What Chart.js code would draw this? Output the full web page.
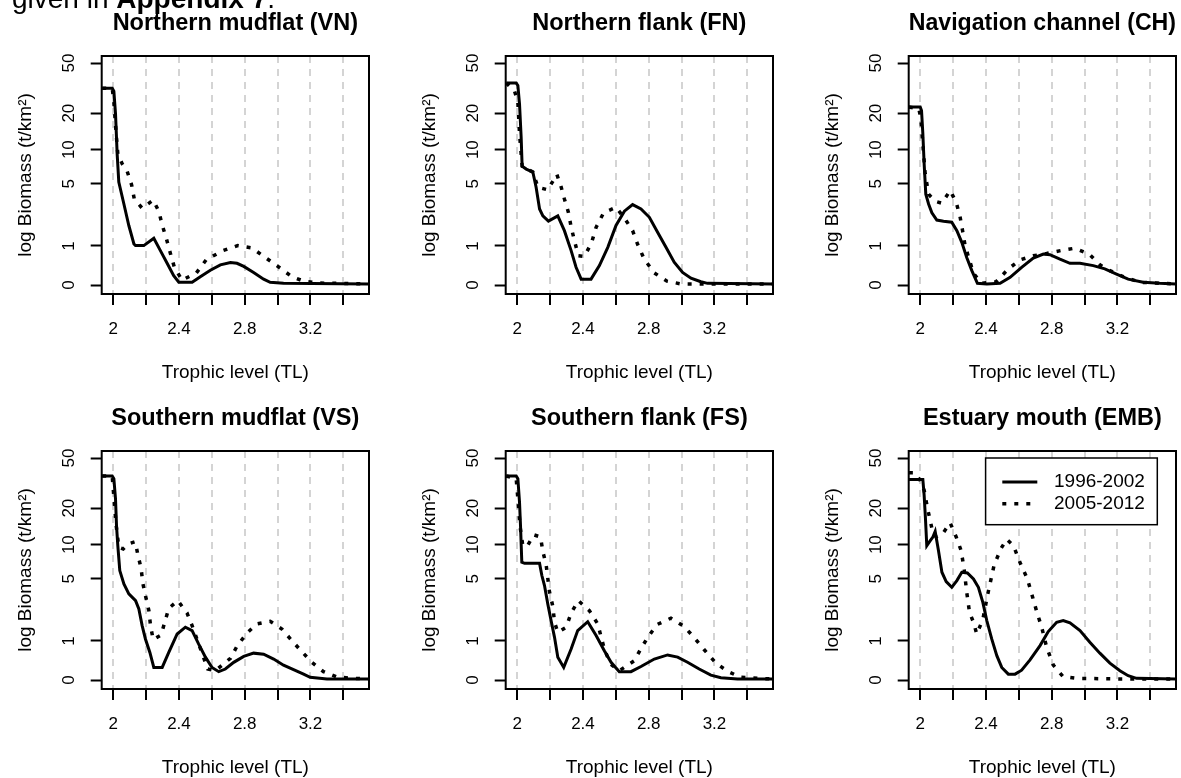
<!DOCTYPE html>
<html>
<head>
<meta charset="utf-8">
<script src="https://cdn.jsdelivr.net/npm/chart.js@4/dist/chart.umd.min.js"></script>
<style>
  html, body { margin: 0; padding: 0; width: 1181px; height: 778px; overflow: hidden; background: #fff; }
  #note { position: absolute; left: 12px; top: -15px; font: 28px/28px "Liberation Sans", Arial, sans-serif; color: #000; z-index: 2; white-space: nowrap; }
  .panel { position: absolute; width: 404px; height: 395px; }
</style>
</head>
<body>
<div id="note">given in <b>Appendix 7</b>.</div>
<script>
// Titres des panneaux et périodes
const regionTitles = ["Northern mudflat (VN)", "Northern flank (FN)", "Navigation channel (CH)",
                      "Southern mudflat (VS)", "Southern flank (FS)", "Estuary mouth (EMB)"];
const periods = ["1996-2002", "2005-2012"];

// Axes
const xTicks = [2.0, 2.2, 2.4, 2.6, 2.8, 3.0, 3.2, 3.4];
const xTickLabels = ["2", "", "2.4", "", "2.8", "", "3.2", ""];
const yTicks = [0, 1, 5, 10, 20, 50];

// Biomass (t/km2) by trophic level
const vnTl96 = [1.933, 1.994, 2.004, 2.014, 2.024, 2.034, 2.065, 2.095, 2.126, 2.136, 2.186, 2.247, 2.287, 2.328, 2.368, 2.399, 2.480, 2.530, 2.591, 2.652, 2.713, 2.753, 2.794, 2.854, 2.915, 2.955, 3.036, 3.556];
const vnB96  = [31.7, 31.7, 30.0, 19.8, 9.2, 5.2, 3.2, 1.87, 1.07, 1.01, 1.01, 1.29, 0.84, 0.47, 0.18, 0.05, 0.05, 0.16, 0.30, 0.43, 0.49, 0.47, 0.39, 0.25, 0.11, 0.05, 0.03, 0.02];
const vnTl05 = [1.933, 1.994, 2.004, 2.018, 2.028, 2.055, 2.085, 2.112, 2.128, 2.176, 2.243, 2.277, 2.298, 2.324, 2.348, 2.372, 2.419, 2.506, 2.567, 2.668, 2.757, 2.844, 2.925, 3.016, 3.087, 3.162, 3.249, 3.556];
const vnB05  = [31.7, 31.7, 24.5, 13.6, 9.2, 7.55, 6.5, 4.9, 3.6, 2.9, 3.5, 2.7, 1.9, 1.26, 0.75, 0.37, 0.09, 0.24, 0.57, 0.84, 1.01, 0.93, 0.63, 0.35, 0.16, 0.067, 0.036, 0.02];

const fnTl96 = [1.933, 1.994, 2.004, 2.014, 2.024, 2.030, 2.055, 2.095, 2.115, 2.136, 2.156, 2.190, 2.247, 2.287, 2.328, 2.358, 2.389, 2.449, 2.500, 2.551, 2.601, 2.652, 2.702, 2.753, 2.804, 2.854, 2.905, 2.955, 3.006, 3.057, 3.117, 3.158, 3.556];
const fnB96  = [34.8, 34.8, 33.3, 23.8, 12.7, 7.2, 6.8, 6.4, 4.65, 2.85, 2.4, 2.1, 2.4, 1.62, 0.84, 0.37, 0.11, 0.11, 0.41, 0.95, 1.87, 2.7, 3.16, 2.85, 2.32, 1.55, 0.95, 0.50, 0.25, 0.13, 0.06, 0.03, 0.02];
const fnTl05 = [1.933, 1.984, 2.004, 2.014, 2.030, 2.095, 2.126, 2.186, 2.241, 2.267, 2.287, 2.312, 2.328, 2.348, 2.372, 2.409, 2.453, 2.480, 2.526, 2.601, 2.652, 2.702, 2.733, 2.773, 2.834, 2.911, 2.996, 3.556];
const fnB05  = [34.8, 30.0, 24.5, 13.6, 7.2, 6.4, 4.65, 4.4, 6.1, 4.7, 3.6, 2.6, 1.8, 1.2, 0.68, 0.66, 1.13, 1.78, 2.6, 2.96, 2.28, 1.62, 1.05, 0.58, 0.24, 0.07, 0.02, 0.02];

const chTl96 = [1.931, 2.000, 2.008, 2.016, 2.024, 2.034, 2.051, 2.071, 2.101, 2.142, 2.192, 2.223, 2.253, 2.283, 2.314, 2.348, 2.405, 2.486, 2.547, 2.617, 2.688, 2.749, 2.789, 2.850, 2.911, 2.972, 3.053, 3.123, 3.194, 3.265, 3.356, 3.457, 3.556];
const chB96  = [22.4, 22.4, 21.0, 13.6, 7.55, 4.0, 3.2, 2.6, 2.16, 2.1, 2.04, 1.62, 1.13, 0.63, 0.29, 0.03, 0.02, 0.03, 0.146, 0.368, 0.61, 0.73, 0.71, 0.58, 0.47, 0.47, 0.41, 0.33, 0.215, 0.11, 0.05, 0.03, 0.02];
const chTl05 = [1.931, 1.992, 2.004, 2.016, 2.030, 2.051, 2.091, 2.132, 2.182, 2.219, 2.243, 2.257, 2.273, 2.298, 2.324, 2.374, 2.462, 2.536, 2.607, 2.688, 2.769, 2.854, 2.941, 3.028, 3.093, 3.154, 3.235, 3.336, 3.556];
const chB05  = [22.4, 21.7, 18.0, 11.2, 6.2, 4.0, 3.41, 3.26, 4.33, 3.33, 2.32, 1.65, 1.01, 0.58, 0.23, 0.03, 0.06, 0.33, 0.56, 0.68, 0.75, 0.84, 0.92, 0.73, 0.43, 0.29, 0.16, 0.05, 0.02];

const vsTl96 = [1.933, 1.994, 2.004, 2.014, 2.020, 2.028, 2.040, 2.065, 2.095, 2.136, 2.156, 2.176, 2.196, 2.223, 2.247, 2.298, 2.338, 2.389, 2.439, 2.480, 2.520, 2.561, 2.601, 2.642, 2.682, 2.733, 2.794, 2.854, 2.915, 2.976, 3.036, 3.097, 3.158, 3.198, 3.300, 3.556];
const vsB96  = [36.1, 36.1, 34.4, 23.8, 14.5, 9.8, 5.95, 4.49, 3.6, 3.08, 2.52, 1.62, 1.07, 0.63, 0.25, 0.25, 0.63, 1.26, 1.55, 1.4, 0.89, 0.50, 0.25, 0.16, 0.215, 0.368, 0.52, 0.61, 0.58, 0.45, 0.30, 0.20, 0.11, 0.05, 0.02, 0.02];
const vsTl05 = [1.933, 1.994, 2.004, 2.018, 2.034, 2.061, 2.095, 2.134, 2.150, 2.170, 2.180, 2.196, 2.217, 2.227, 2.243, 2.291, 2.338, 2.393, 2.449, 2.480, 2.530, 2.575, 2.621, 2.713, 2.753, 2.814, 2.874, 2.955, 3.026, 3.087, 3.144, 3.209, 3.279, 3.360, 3.462, 3.556];
const vsB05  = [36.1, 36.1, 24.5, 14.5, 9.5, 9.2, 10.2, 10.6, 8.2, 6.2, 4.56, 3.47, 2.42, 1.62, 1.05, 1.22, 2.56, 3.08, 2.28, 1.62, 0.75, 0.215, 0.18, 0.47, 0.82, 1.30, 1.70, 1.83, 1.47, 1.01, 0.67, 0.368, 0.16, 0.055, 0.03, 0.02];

const fsTl96 = [1.933, 1.994, 2.004, 2.014, 2.020, 2.028, 2.045, 2.136, 2.150, 2.166, 2.186, 2.206, 2.227, 2.247, 2.283, 2.328, 2.368, 2.429, 2.480, 2.530, 2.571, 2.621, 2.692, 2.753, 2.834, 2.915, 2.976, 3.036, 3.107, 3.178, 3.239, 3.340, 3.556];
const fsB96  = [36.1, 36.1, 34.4, 22.4, 14.5, 7.06, 6.9, 6.9, 5.37, 4.33, 2.85, 1.87, 1.13, 0.50, 0.25, 0.73, 1.4, 1.81, 1.2, 0.68, 0.37, 0.16, 0.16, 0.27, 0.45, 0.56, 0.50, 0.37, 0.215, 0.09, 0.04, 0.02, 0.02];
const fsTl05 = [1.933, 1.994, 2.004, 2.018, 2.034, 2.061, 2.101, 2.142, 2.156, 2.176, 2.196, 2.217, 2.227, 2.247, 2.298, 2.328, 2.372, 2.439, 2.490, 2.530, 2.567, 2.621, 2.713, 2.753, 2.794, 2.850, 2.935, 3.016, 3.081, 3.138, 3.209, 3.283, 3.360, 3.462, 3.556];
const fsB05  = [36.1, 34.4, 23.8, 14.0, 9.8, 9.7, 12.1, 11.6, 8.75, 6.7, 3.79, 2.67, 1.78, 1.33, 1.55, 2.28, 3.08, 2.42, 1.7, 0.73, 0.33, 0.18, 0.41, 0.75, 1.13, 1.67, 1.99, 1.58, 1.09, 0.71, 0.35, 0.16, 0.05, 0.03, 0.02];

const embTl96 = [1.931, 2.016, 2.024, 2.032, 2.040, 2.061, 2.077, 2.091, 2.111, 2.132, 2.158, 2.192, 2.223, 2.253, 2.287, 2.324, 2.354, 2.381, 2.405, 2.435, 2.466, 2.496, 2.536, 2.577, 2.617, 2.668, 2.729, 2.779, 2.830, 2.870, 2.911, 2.972, 3.032, 3.093, 3.154, 3.215, 3.265, 3.316, 3.556];
const embB96  = [33.9, 33.9, 25.3, 16.4, 9.8, 10.8, 11.6, 12.9, 8.9, 5.75, 4.72, 4.17, 4.82, 5.75, 5.67, 5.0, 4.17, 2.96, 1.87, 1.07, 0.54, 0.25, 0.11, 0.11, 0.19, 0.43, 0.84, 1.36, 1.78, 1.87, 1.75, 1.40, 0.95, 0.61, 0.35, 0.18, 0.08, 0.03, 0.02];
const embTl05 = [1.931, 1.964, 2.000, 2.024, 2.045, 2.071, 2.097, 2.132, 2.182, 2.219, 2.249, 2.267, 2.283, 2.300, 2.324, 2.344, 2.381, 2.409, 2.449, 2.490, 2.526, 2.567, 2.611, 2.652, 2.684, 2.713, 2.739, 2.769, 2.810, 2.870, 2.951, 3.215, 3.556];
const embB05  = [38.4, 38.4, 33.3, 27.8, 19.8, 13.7, 11.6, 12.1, 15.2, 11.6, 8.9, 6.16, 3.73, 2.32, 1.78, 1.26, 1.92, 3.47, 6.6, 9.2, 11.1, 9.8, 6.8, 5.0, 3.33, 2.22, 1.55, 0.79, 0.30, 0.06, 0.03, 0.02, 0.02];

const panelSeries = [
    [[vnTl96, vnB96], [vnTl05, vnB05]],
    [[fnTl96, fnB96], [fnTl05, fnB05]],
    [[chTl96, chB96], [chTl05, chB05]],
    [[vsTl96, vsB96], [vsTl05, vsB05]],
    [[fsTl96, fsB96], [fsTl05, fsB05]],
    [[embTl96, embB96], [embTl05, embB05]]
];

Chart.defaults.font.family = '"Liberation Sans", Arial, sans-serif';
Chart.defaults.color = "#000";

// log10(B + 1), comme sur l'axe de la figure
const toLog = b => Math.log10(b + 1);

// Cadre autour de la zone de tracé
const frameBox = {
    id: "frameBox",
    afterDatasetsDraw(chart) {
        const { ctx, chartArea: a } = chart;
        ctx.save();
        ctx.strokeStyle = "#000";
        ctx.lineWidth = 2;
        ctx.strokeRect(a.left, a.top, a.right - a.left, a.bottom - a.top);
        ctx.restore();
    }
};

// Légende encadrée (dernier panneau)
const periodLegend = {
    id: "periodLegend",
    afterDatasetsDraw(chart, args, opts) {
        if(!opts.display) return;
        const { ctx, chartArea: a } = chart;
        const w = 171.7, h = 66.7;
        const left = a.right - 18.7 - w;
        const top = a.top + 7;
        ctx.save();
        ctx.fillStyle = "#fff";
        ctx.fillRect(left, top, w, h);
        ctx.lineWidth = 1.5;
        ctx.strokeStyle = "#000";
        ctx.strokeRect(left, top, w, h);
        chart.data.datasets.forEach((ds, k) => {
            const y = top + 24 + k * 21.7;
            ctx.setLineDash(ds.borderDash || []);
            ctx.lineCap = "butt";
            ctx.lineWidth = ds.borderWidth;
            ctx.beginPath();
            ctx.moveTo(left + 16.7, y);
            ctx.lineTo(left + 51.7, y);
            ctx.stroke();
            ctx.setLineDash([]);
            ctx.fillStyle = "#000";
            ctx.font = '19px "Liberation Sans", Arial, sans-serif';
            ctx.textBaseline = "middle";
            ctx.fillText(ds.label, left + 68.4, y);
        });
        ctx.restore();
    }
};

function panelConfig(idx) {
    const [s96, s05] = panelSeries[idx];
    let config = {
        type: "line",
        plugins: [frameBox, periodLegend]
    };

    config["data"] = {
        datasets: [
            {
                label: periods[0],
                data: s96[0].map((t, i) => ({ x: t, y: toLog(s96[1][i]) })),
                borderColor: "#000",
                borderWidth: 3,
                pointRadius: 0,
                tension: 0,
                fill: false,
                order: 1
            },
            {
                label: periods[1],
                data: s05[0].map((t, i) => ({ x: t, y: toLog(s05[1][i]) })),
                borderColor: "#000",
                borderWidth: 3.5,
                borderDash: [4, 8],
                borderCapStyle: "butt",
                pointRadius: 0,
                tension: 0,
                fill: false,
                order: 0
            }
        ]
    };

    config["options"] = {
        responsive: false,
        animation: false,
        events: [],
        layout: { padding: { left: 0, right: 35, top: 0, bottom: 0 } },
        plugins: {
            legend: { display: false },
            tooltip: { enabled: false },
            title: {
                display: true,
                text: regionTitles[idx],
                fullSize: false,
                color: "#000",
                font: { size: 23.5, weight: "bold" },
                padding: { top: 9, bottom: 18.8 }
            },
            periodLegend: { display: idx === 5 }
        },
        scales: {
            x: {
                type: "linear",
                min: 1.93,
                max: 3.556,
                afterBuildTicks: s => { s.ticks = xTicks.map(v => ({ value: v })); },
                afterFit: s => { s.height = 101; },
                ticks: {
                    autoSkip: false,
                    maxRotation: 0,
                    padding: 14,
                    color: "#000",
                    font: { size: 17 },
                    callback: (v, i) => xTickLabels[i]
                },
                grid: {
                    color: "#d4d4d4",
                    lineWidth: 2,
                    tickLength: 11,
                    tickColor: "#000",
                    tickWidth: 2,
                    tickBorderDash: []
                },
                border: { display: false, dash: [7, 6] },
                title: {
                    display: true,
                    text: "Trophic level (TL)",
                    color: "#000",
                    font: { size: 19 },
                    padding: { top: 0, bottom: 11 }
                }
            },
            y: {
                type: "linear",
                min: -0.069,
                max: 1.762,
                afterBuildTicks: s => { s.ticks = yTicks.map(v => ({ value: toLog(v) })); },
                afterFit: s => { s.width = 101.7; },
                ticks: {
                    minRotation: 90,
                    maxRotation: 90,
                    crossAlign: "center",
                    padding: 12,
                    color: "#000",
                    font: { size: 17 },
                    callback: (v, i) => String(yTicks[i])
                },
                grid: {
                    drawOnChartArea: false,
                    color: "#000",
                    tickLength: 11,
                    tickColor: "#000",
                    tickWidth: 2
                },
                border: { display: false },
                title: {
                    display: true,
                    text: "log Biomass (t/km²)",
                    color: "#000",
                    font: { size: 19 },
                    padding: { top: 14.5, bottom: 0 }
                }
            }
        }
    };

    return config;
}

regionTitles.forEach((title, idx) => {
    const col = idx % 3;
    const row = Math.floor(idx / 3);
    const wrap = document.createElement("div");
    wrap.className = "panel";
    wrap.style.left = Math.round(col * 403.7) + "px";
    wrap.style.top = Math.round(row * 395.3) + "px";
    const canvas = document.createElement("canvas");
    canvas.width = 404;
    canvas.height = 395;
    wrap.appendChild(canvas);
    document.body.appendChild(wrap);
    new Chart(canvas, panelConfig(idx));
});
</script>
</body>
</html>
